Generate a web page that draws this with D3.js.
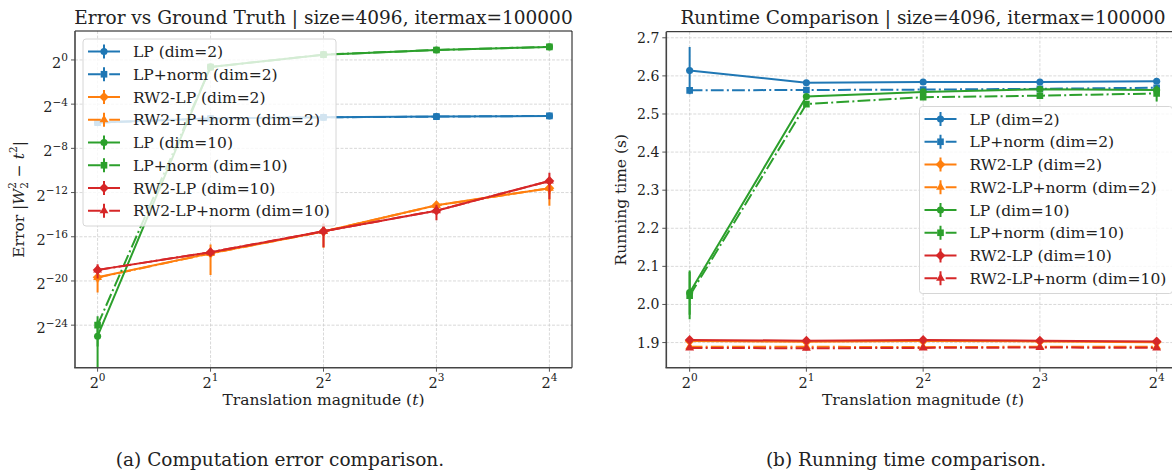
<!DOCTYPE html>
<html>
<head>
<meta charset="utf-8">
<script src="https://cdn.jsdelivr.net/npm/d3@7"></script>
<style>
    body { margin: 0; background: #fff; }
    svg text { font-family: "DejaVu Serif", serif; fill: #222; }
</style>
</head>
<body>
<div id="chart-container"></div>
<script>

var translations = [1, 2, 4, 8, 16];

var seriesNames = [
    "LP (dim=2)", "LP+norm (dim=2)", "RW2-LP (dim=2)", "RW2-LP+norm (dim=2)",
    "LP (dim=10)", "LP+norm (dim=10)", "RW2-LP (dim=10)", "RW2-LP+norm (dim=10)"
];
var seriesColors = ["#1f77b4", "#1f77b4", "#ff7f0e", "#ff7f0e", "#2ca02c", "#2ca02c", "#d62728", "#d62728"];
var seriesMarkers = ["circle", "square", "diamond", "triangle", "circle", "square", "diamond", "triangle"];
var seriesDashed = [false, true, false, true, false, true, false, true];

// |W2^2 - t^2|, mean and std over runs
var errorMeans = [
    [0.0197, 0.0254, 0.0274, 0.0286, 0.0298],
    [0.0196, 0.0255, 0.0273, 0.0286, 0.0299],
    [1.20e-6, 5.39e-6, 2.11e-5, 1.10e-4, 3.22e-4],
    [1.18e-6, 5.35e-6, 2.12e-5, 1.09e-4, 3.20e-4],
    [2.98e-8, 0.646, 1.395, 1.866, 2.266],
    [5.96e-8, 0.640, 1.392, 1.870, 2.270],
    [1.91e-6, 5.78e-6, 2.16e-5, 7.83e-5, 5.05e-4],
    [1.90e-6, 5.80e-6, 2.15e-5, 7.85e-5, 5.02e-4]
];
var errorStds = [
    [0.0003, 0.0003, 0.0003, 0.0003, 0.0003],
    [0.0003, 0.0003, 0.0003, 0.0003, 0.0003],
    [7.4e-7, 4.0e-6, 1.35e-5, 2.0e-5, 2.15e-4],
    [3.0e-7, 1.0e-6, 5.0e-6, 1.5e-5, 1.0e-4],
    [5.0e-8, 0.01, 0.01, 0.01, 0.01],
    [4.4e-8, 0.01, 0.01, 0.01, 0.01],
    [8.0e-7, 1.0e-6, 1.37e-5, 3.5e-5, 3.45e-4],
    [2.0e-7, 1.0e-6, 5.0e-6, 1.0e-5, 1.0e-4]
];

// running time in seconds
var timeMeans = [
    [2.614, 2.582, 2.584, 2.584, 2.586],
    [2.562, 2.563, 2.564, 2.566, 2.569],
    [1.904, 1.902, 1.904, 1.903, 1.901],
    [1.889, 1.889, 1.888, 1.889, 1.889],
    [2.031, 2.546, 2.558, 2.565, 2.563],
    [2.023, 2.526, 2.544, 2.548, 2.554],
    [1.907, 1.905, 1.907, 1.905, 1.903],
    [1.886, 1.885, 1.886, 1.887, 1.886]
];
var timeStds = [
    [0.062, 0.004, 0.003, 0.003, 0.004],
    [0.003, 0.003, 0.003, 0.003, 0.003],
    [0.003, 0.003, 0.003, 0.003, 0.003],
    [0.003, 0.003, 0.003, 0.003, 0.003],
    [0.058, 0.006, 0.004, 0.003, 0.004],
    [0.062, 0.006, 0.005, 0.004, 0.021],
    [0.004, 0.004, 0.004, 0.003, 0.003],
    [0.004, 0.006, 0.005, 0.004, 0.005]
];

var errorTicks = [1, Math.pow(2, -4), Math.pow(2, -8), Math.pow(2, -12), Math.pow(2, -16), Math.pow(2, -20), Math.pow(2, -24)];
var timeTicks = [1.9, 2.0, 2.1, 2.2, 2.3, 2.4, 2.5, 2.6, 2.7];

var svg = d3.select("#chart-container")
    .append("svg")
    .attr("width", 1172)
    .attr("height", 471);

var markerPath = function (type) {
    if (type === "circle") return d3.symbol().type(d3.symbolCircle).size(40)();
    if (type === "square") return d3.symbol().type(d3.symbolSquare).size(44)();
    if (type === "triangle") return d3.symbol().type(d3.symbolTriangle).size(34)();
    return d3.symbol().type(d3.symbolSquare).size(48)();
};
var markerRotate = function (type) {
    return type === "diamond" ? " rotate(45)" : "";
};

var powerLabel = function (sel, exp) {
    sel.append("tspan").text("2");
    sel.append("tspan")
        .attr("dy", -6.5)
        .style("font-size", "10.5px")
        .text(String(exp).replace("-", "\u2212"));
};

var drawPanel = function (cfg) {
    var x = cfg.x, y = cfg.y;
    var x0 = x.range()[0], x1 = x.range()[1];
    var yb = y.range()[0], yt = y.range()[1];
    var g = svg.append("g");

    g.append("clipPath").attr("id", cfg.id + "-clip")
        .append("rect")
        .attr("x", x0).attr("y", yt)
        .attr("width", x1 - x0).attr("height", yb - yt);

    // grid
    g.selectAll(".gx").data(translations).enter().append("line")
        .attr("x1", function (d) { return x(d); })
        .attr("x2", function (d) { return x(d); })
        .attr("y1", yt).attr("y2", yb)
        .attr("stroke", "#cfcfcf").attr("stroke-width", 0.8)
        .attr("stroke-dasharray", "3,1.5");
    g.selectAll(".gy").data(cfg.yTicks).enter().append("line")
        .attr("x1", x0).attr("x2", x1)
        .attr("y1", function (d) { return y(d); })
        .attr("y2", function (d) { return y(d); })
        .attr("stroke", "#cfcfcf").attr("stroke-width", 0.8)
        .attr("stroke-dasharray", "3,1.5");

    var plot = g.append("g").attr("clip-path", "url(#" + cfg.id + "-clip)");
    var line = d3.line()
        .x(function (d) { return x(d.t); })
        .y(function (d) { return y(d.m); });

    cfg.means.forEach(function (row, i) {
        var pts = row.map(function (m, j) {
            return { t: translations[j], m: m, s: cfg.stds[i][j] };
        });
        var col = seriesColors[i];
        var s = plot.append("g");
        s.append("path")
            .datum(pts)
            .attr("d", line)
            .attr("fill", "none")
            .attr("stroke", col)
            .attr("stroke-width", 2)
            .attr("stroke-dasharray", seriesDashed[i] ? "12.8,3.2,2,3.2" : null);
        s.selectAll(".eb").data(pts).enter().append("line")
            .attr("x1", function (d) { return x(d.t); })
            .attr("x2", function (d) { return x(d.t); })
            .attr("y1", function (d) {
                var lo = d.m - d.s;
                return lo > y.domain()[0] ? y(lo) : yb + 5;
            })
            .attr("y2", function (d) { return y(d.m + d.s); })
            .attr("stroke", col)
            .attr("stroke-width", 2);
        s.selectAll(".mk").data(pts).enter().append("path")
            .attr("d", markerPath(seriesMarkers[i]))
            .attr("transform", function (d) {
                return "translate(" + x(d.t) + "," + y(d.m) + ")" + markerRotate(seriesMarkers[i]);
            })
            .attr("fill", col);
    });

    // spines
    g.append("line").attr("x1", x0).attr("x2", x1).attr("y1", yt).attr("y2", yt)
        .attr("stroke", "#111").attr("stroke-width", 1);
    g.append("line").attr("x1", x1).attr("x2", x1).attr("y1", yt).attr("y2", yb)
        .attr("stroke", "#111").attr("stroke-width", 1);
    g.append("line").attr("x1", x0).attr("x2", x0).attr("y1", yt).attr("y2", yb)
        .attr("stroke", "#444").attr("stroke-width", 1.6);
    g.append("line").attr("x1", x0 - 0.8).attr("x2", x1).attr("y1", yb).attr("y2", yb)
        .attr("stroke", "#444").attr("stroke-width", 1.6);

    // x ticks
    var xt = g.selectAll(".xt").data(translations).enter().append("g")
        .attr("transform", function (d) { return "translate(" + x(d) + "," + yb + ")"; });
    xt.append("line").attr("y1", 0).attr("y2", 4).attr("stroke", "#444").attr("stroke-width", 0.9);
    xt.append("text")
        .attr("y", 20)
        .attr("text-anchor", "middle")
        .style("font-size", "14.5px")
        .each(function (d) { powerLabel(d3.select(this), Math.round(Math.log2(d))); });

    // y ticks
    var ytk = g.selectAll(".yt").data(cfg.yTicks).enter().append("g")
        .attr("transform", function (d) { return "translate(" + x0 + "," + y(d) + ")"; });
    ytk.append("line").attr("x1", -4).attr("x2", 0).attr("stroke", "#444").attr("stroke-width", 0.9);
    ytk.append("text")
        .attr("x", -7)
        .attr("y", cfg.logY ? 8 : 5)
        .attr("text-anchor", "end")
        .style("font-size", cfg.logY ? "14.5px" : "14px")
        .each(function (d) {
            if (cfg.logY) powerLabel(d3.select(this), Math.round(Math.log2(d)));
            else d3.select(this).text(d3.format(".1f")(d));
        });

    // title and x label
    g.append("text")
        .attr("x", cfg.titleX).attr("y", 24)
        .attr("text-anchor", "middle")
        .style("font-size", "18.5px")
        .text(cfg.title);
    var xl = g.append("text")
        .attr("x", cfg.titleX).attr("y", 405)
        .attr("text-anchor", "middle")
        .style("font-size", "15.5px");
    xl.append("tspan").text("Translation magnitude (");
    xl.append("tspan").style("font-style", "italic").text("t");
    xl.append("tspan").text(")");

    // legend
    var lg = g.append("g").attr("transform", "translate(" + cfg.legendX + "," + cfg.legendY + ")");
    lg.append("rect")
        .attr("width", 253).attr("height", 187)
        .attr("rx", 3)
        .attr("fill", "#fff").attr("fill-opacity", 0.8)
        .attr("stroke", "#d6d6d6").attr("stroke-width", 1);
    seriesNames.forEach(function (name, i) {
        var row = lg.append("g").attr("transform", "translate(0," + (12.5 + i * 22.75) + ")");
        row.append("line")
            .attr("x1", 5).attr("x2", 37)
            .attr("stroke", seriesColors[i]).attr("stroke-width", 2)
            .attr("stroke-dasharray", seriesDashed[i] ? "12.8,3.2,2,3.2" : null);
        row.append("line")
            .attr("x1", 21).attr("x2", 21).attr("y1", -7).attr("y2", 7)
            .attr("stroke", seriesColors[i]).attr("stroke-width", 2);
        row.append("path")
            .attr("d", markerPath(seriesMarkers[i]))
            .attr("transform", "translate(21,0)" + markerRotate(seriesMarkers[i]))
            .attr("fill", seriesColors[i]);
        row.append("text")
            .attr("x", 50).attr("y", 5.5)
            .style("font-size", "15.5px")
            .text(name);
    });
};

var errX = d3.scaleLog().base(2).domain([Math.pow(2, -0.2), Math.pow(2, 4.2)]).range([75, 572]);
var errY = d3.scaleLog().base(2).domain([Math.pow(2, -27.85), Math.pow(2, 2.62)]).range([367.7, 31]);
drawPanel({
    id: "err", x: errX, y: errY, logY: true,
    means: errorMeans, stds: errorStds, yTicks: errorTicks,
    title: "Error vs Ground Truth | size=4096, itermax=100000", titleX: 323.5,
    legendX: 83, legendY: 39
});

var timeX = d3.scaleLog().base(2).domain([Math.pow(2, -0.2), Math.pow(2, 4.2)]).range([666.3, 1180]);
var timeY = d3.scaleLinear().domain([1.834, 2.716]).range([367.7, 31.7]);
drawPanel({
    id: "time", x: timeX, y: timeY, logY: false,
    means: timeMeans, stds: timeStds, yTicks: timeTicks,
    title: "Runtime Comparison | size=4096, itermax=100000", titleX: 923,
    legendX: 919.5, legendY: 106.5
});

// y labels
var yl = svg.append("text")
    .attr("transform", "translate(23.5,199.4) rotate(-90)")
    .attr("text-anchor", "middle")
    .style("font-size", "15.5px");
yl.append("tspan").text("Error |");
yl.append("tspan").style("font-style", "italic").text("W");
yl.append("tspan").attr("dy", 4).style("font-size", "10.5px").text("2");
yl.append("tspan").attr("dx", -6.7).attr("dy", -11.5).style("font-size", "10.5px").text("2");
yl.append("tspan").attr("dy", 7.5).text(" \u2212 ");
yl.append("tspan").style("font-style", "italic").text("t");
yl.append("tspan").attr("dy", -6.5).style("font-size", "10.5px").text("2");
yl.append("tspan").attr("dy", 6.5).text("|");

svg.append("text")
    .attr("transform", "translate(625.5,199.7) rotate(-90)")
    .attr("text-anchor", "middle")
    .style("font-size", "15.5px")
    .text("Running time (s)");

// sub-figure captions
svg.append("text")
    .attr("x", 280).attr("y", 466)
    .attr("text-anchor", "middle")
    .style("font-size", "18.5px")
    .text("(a) Computation error comparison.");
svg.append("text")
    .attr("x", 906).attr("y", 466)
    .attr("text-anchor", "middle")
    .style("font-size", "18.5px")
    .text("(b) Running time comparison.");

</script>
</body>
</html>
